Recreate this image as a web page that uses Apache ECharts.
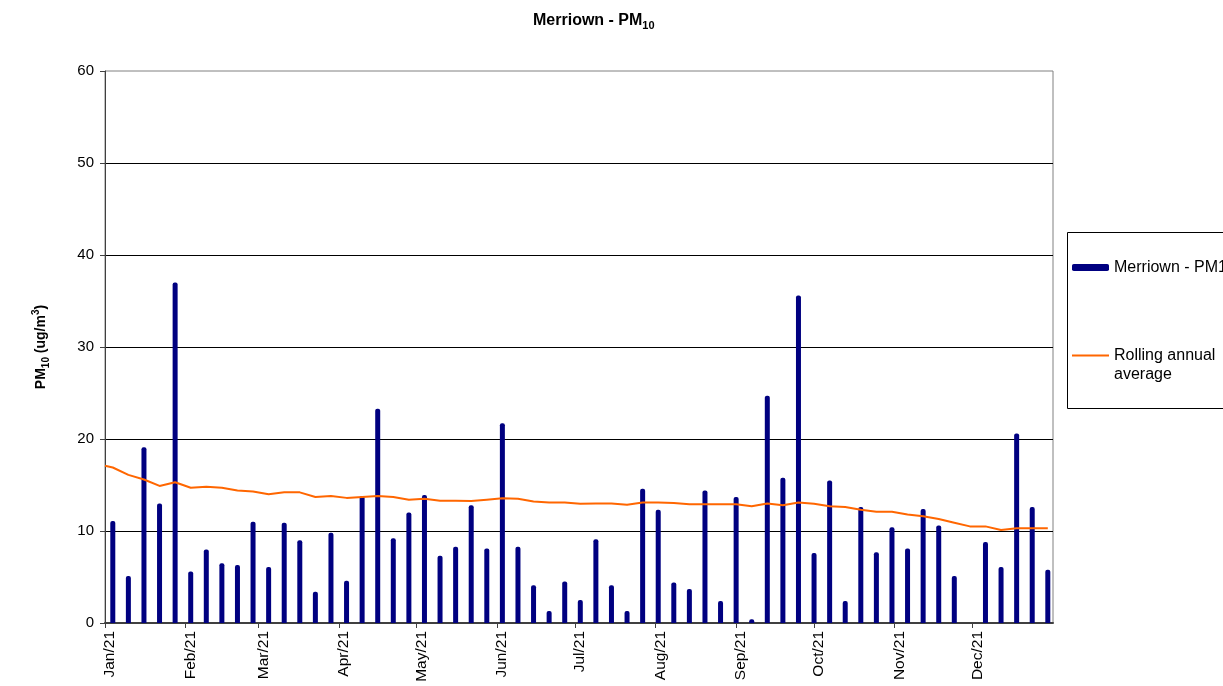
<!DOCTYPE html>
<html>
<head>
<meta charset="utf-8">
<script src="https://cdn.jsdelivr.net/npm/echarts@6/dist/echarts.min.js"></script>
<style>
  html, body { margin: 0; padding: 0; background: #fff; }
  #chart { width: 1223px; height: 686px; }
</style>
</head>
<body>
<div id="chart"></div>
<script>
// ---- Data ----
const sampleDates = [
  '2021-01-04','2021-01-10','2021-01-16','2021-01-22','2021-01-28',
  '2021-02-03','2021-02-09','2021-02-15','2021-02-21','2021-02-27',
  '2021-03-05','2021-03-11','2021-03-17','2021-03-23','2021-03-29',
  '2021-04-04','2021-04-10','2021-04-16','2021-04-22','2021-04-28',
  '2021-05-04','2021-05-10','2021-05-16','2021-05-22','2021-05-28',
  '2021-06-03','2021-06-09','2021-06-15','2021-06-21','2021-06-27',
  '2021-07-03','2021-07-09','2021-07-15','2021-07-21','2021-07-27',
  '2021-08-02','2021-08-08','2021-08-14','2021-08-20','2021-08-26',
  '2021-09-01','2021-09-07','2021-09-13','2021-09-19','2021-09-25',
  '2021-10-01','2021-10-07','2021-10-13','2021-10-19','2021-10-25',
  '2021-10-31','2021-11-06','2021-11-12','2021-11-18','2021-11-24',
  '2021-11-30','2021-12-06','2021-12-12','2021-12-18','2021-12-24',
  '2021-12-30'
];
const pm10 = [
  11.1, 5.1, 19.1, 13.0, 37.0, 5.6, 8.0, 6.5, 6.3, 11.0,
  6.1, 10.9, 9.0, 3.4, 9.8, 4.6, 13.8, 23.3, 9.2, 12.0,
  13.9, 7.3, 8.3, 12.8, 8.1, 21.7, 8.3, 4.1, 1.3, 4.5,
  2.5, 9.1, 4.1, 1.3, 14.6, 12.3, 4.4, 3.7, 14.4, 2.4,
  13.7, 0.4, 24.7, 15.8, 35.6, 7.6, 15.5, 2.4, 12.6, 7.7,
  10.4, 8.1, 12.4, 10.6, 5.1, null, 8.8, 6.1, 20.6, 12.6, 5.8
];
const rollingDates = ['2021-01-01'].concat(sampleDates);
const rollingAvg = [
  17.1,
  16.9, 16.1, 15.6, 14.9, 15.3, 14.7, 14.8, 14.7, 14.4, 14.3,
  14.0, 14.2, 14.2, 13.7, 13.8, 13.6, 13.7, 13.8, 13.7, 13.4,
  13.5, 13.3, 13.3, 13.25, 13.4, 13.55, 13.5, 13.2, 13.1, 13.1,
  12.97, 13.0, 13.0, 12.86, 13.1, 13.1, 13.05, 12.9, 12.9, 12.9,
  12.9, 12.7, 13.0, 12.8, 13.1, 12.95, 12.7, 12.6, 12.3, 12.1,
  12.1, 11.8, 11.6, 11.3, 10.9, 10.5, 10.5, 10.1, 10.3, 10.3,
  10.3
];
const monthTicks = [
  '2021-01-01','2021-02-01','2021-03-01','2021-04-01','2021-05-01','2021-06-01',
  '2021-07-01','2021-08-01','2021-09-01','2021-10-01','2021-11-01','2021-12-01'
];
const monthNames = ['Jan','Feb','Mar','Apr','May','Jun','Jul','Aug','Sep','Oct','Nov','Dec'];
const yTicks = [0, 10, 20, 30, 40, 50, 60];

// ---- Helpers ----
function ts(s) { const p = s.split('-').map(Number); return Date.UTC(p[0], p[1] - 1, p[2]); }
const FONT = 'Arial, "Liberation Sans", sans-serif';

const chart = echarts.init(document.getElementById('chart'), null, { renderer: 'canvas' });
const tickTs = monthTicks.map(ts);

const option = {
  animation: false,
  backgroundColor: '#ffffff',
  textStyle: { fontFamily: FONT },
  title: {
    text: '{b|Merriown - PM}{s|10}',
    left: 528,
    top: 6,
    textStyle: {
      rich: {
        b: { fontFamily: FONT, fontSize: 16, fontWeight: 'bold', color: '#000', lineHeight: 20, verticalAlign: 'middle' },
        s: { fontFamily: FONT, fontSize: 11, fontWeight: 'bold', color: '#000', lineHeight: 20, verticalAlign: 'bottom', padding: [6, 0, 0, 0] }
      }
    }
  },
  grid: {
    left: 105, right: 170, top: 71, bottom: 63,
    show: true, borderColor: '#808080', borderWidth: 1, backgroundColor: '#ffffff'
  },
  graphic: [{
    type: 'rect',
    shape: { x: 1067.5, y: 232.5, width: 200, height: 176 },
    style: { fill: '#ffffff', stroke: '#000000', lineWidth: 1 },
    z: 0
  }],
  legend: [
    {
      data: ['Merriown - PM10'],
      left: 1072, top: 258,
      padding: 0,
      itemWidth: 37, itemHeight: 7,
      icon: 'roundRect',
      textStyle: { fontFamily: FONT, fontSize: 16, color: '#000', lineHeight: 19 }
    },
    {
      data: ['Rolling annual average'],
      left: 1072, top: 327,
      padding: 0,
      itemWidth: 37, itemHeight: 2,
      icon: 'rect',
      itemStyle: { color: '#FF6600' },
      formatter: function () { return ' \nRolling annual\naverage'; },
      textStyle: { fontFamily: FONT, fontSize: 16, color: '#000', lineHeight: 19 }
    }
  ],
  xAxis: {
    type: 'value',
    min: ts('2021-01-01'),
    max: ts('2022-01-01'),
    axisLine: { show: true, onZero: false, lineStyle: { color: '#404040', width: 2 } },
    axisTick: { show: true, length: 5, customValues: tickTs, lineStyle: { color: '#404040', width: 1 } },
    axisLabel: {
      customValues: tickTs,
      rotate: 90,
      margin: 8,
      verticalAlign: 'top',
      lineHeight: 10,
      fontFamily: FONT,
      fontSize: 15.5,
      color: '#000',
      showMinLabel: true,
      formatter: function (v) {
        const d = new Date(v);
        return monthNames[d.getUTCMonth()] + '/' + String(d.getUTCFullYear()).slice(2);
      }
    },
    splitLine: { show: false }
  },
  yAxis: {
    type: 'value',
    min: yTicks[0],
    max: yTicks[yTicks.length - 1],
    interval: 10,
    name: '{b|PM}{s|10}{b| (ug/m}{p|3}{b|)}',
    nameLocation: 'middle',
    nameGap: 54,
    nameRotate: 90,
    nameTextStyle: {
      rich: {
        b: { fontFamily: FONT, fontSize: 14, fontWeight: 'bold', color: '#000', lineHeight: 20, verticalAlign: 'middle' },
        s: { fontFamily: FONT, fontSize: 10, fontWeight: 'bold', color: '#000', lineHeight: 20, verticalAlign: 'bottom', padding: [6, 0, 0, 0] },
        p: { fontFamily: FONT, fontSize: 10, fontWeight: 'bold', color: '#000', lineHeight: 20, verticalAlign: 'top', padding: [0, 0, 6, 0] }
      }
    },
    axisLine: { show: true, lineStyle: { color: '#404040', width: 1 } },
    axisTick: { show: true, length: 5, lineStyle: { color: '#404040' } },
    axisLabel: { margin: 11, fontFamily: FONT, fontSize: 15, color: '#000' },
    splitLine: { show: true, showMaxLine: false, lineStyle: { color: '#000000', width: 1 } }
  },
  series: [
    {
      name: 'Merriown - PM10',
      type: 'bar',
      barWidth: 5,
      itemStyle: { color: '#000080', borderRadius: [2, 2, 0, 0] },
      data: sampleDates.map((d, i) => [ts(d), pm10[i]]),
      z: 2
    },
    {
      name: 'Rolling annual average',
      type: 'line',
      symbol: 'none',
      showSymbol: false,
      lineStyle: { color: '#FF6600', width: 2 },
      itemStyle: { color: '#FF6600' },
      data: rollingDates.map((d, i) => [ts(d), rollingAvg[i]]),
      z: 3
    }
  ]
};
chart.setOption(option);
</script>
</body>
</html>
